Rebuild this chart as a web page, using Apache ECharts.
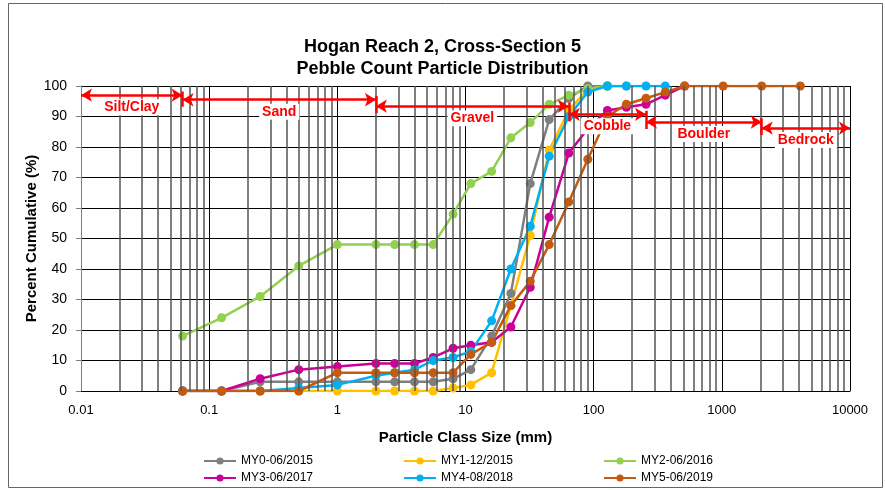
<!DOCTYPE html>
<html>
<head>
<meta charset="utf-8">
<script src="https://cdn.jsdelivr.net/npm/echarts@6/dist/echarts.min.js"></script>
<style>
  html, body { margin: 0; padding: 0; background: #fff; }
  #chart { width: 885px; height: 490px; }
</style>
</head>
<body>
<div id="chart"></div>
<script>
// particle class sizes (mm), shared by every survey
const sizes = [0.062, 0.125, 0.25, 0.5, 1, 2, 2.8, 4, 5.6, 8, 11, 16, 22.6, 32, 45, 64, 90, 128, 180, 256, 362, 512, 1024, 2048, 4096];

// percent cumulative per survey, in the order of sizes
const my0 = [0, 0, 3, 3, 3, 3, 3, 3, 3, 4, 7, 18, 32, 68, 89, 96, 100, 100];
const my1 = [0, 0, 0, 0, 0, 0, 0, 0, 0, 1, 2, 6, 28, 51, 79, 92, 99, 100];
const my2 = [18, 24, 31, 41, 48, 48, 48, 48, 48, 58, 68, 72, 83, 88, 94, 97, 99, 100, 100];
const my3 = [0, 0, 4, 7, 8, 9, 9, 9, 11, 14, 15, 16, 21, 34, 57, 78, 86, 92, 93, 94, 97, 100];
const my4 = [0, 0, 0, 1, 2, 5, 6, 7, 10, 11, 13, 23, 40, 54, 77, 90, 98, 100, 100, 100, 100];
const my5 = [0, 0, 0, 0, 6, 6, 6, 6, 6, 6, 12, 16, 28, 36, 48, 62, 76, 90, 94, 96, 98, 100, 100, 100, 100];

const surveyNames = ['MY0-06/2015', 'MY1-12/2015', 'MY2-06/2016', 'MY3-06/2017', 'MY4-08/2018', 'MY5-06/2019'];
const surveyValues = [my0, my1, my2, my3, my4, my5];
const surveyColors = ['#7f7f7f', '#ffc000', '#92d050', '#cc0099', '#00b0f0', '#c55a11'];

// size class boundaries (mm) and names for the red arrows
const classBounds = [0.01, 0.062, 2, 64, 256, 2048, 10000];
const classNames = ['Silt/Clay', 'Sand', 'Gravel', 'Cobble', 'Boulder', 'Bedrock'];
const classLevels = [97, 95.5, 93.4, 90.7, 88.2, 86.2];

const xTicks = [0.01, 0.1, 1, 10, 100, 1000];

const narrow = '"Liberation Sans Narrow", "Liberation Sans", Arial, sans-serif';

const chart = echarts.init(document.getElementById('chart'));

// minor log grid lines 2..9 within each decade
const minorLines = [];
xTicks.forEach(d => {
  for (let m = 2; m <= 9; m++) {
    minorLines.push({ xAxis: +(d * m).toPrecision(3) });
  }
});

const arrowData = [];
classNames.forEach((name, i) => {
  arrowData.push([
    { coord: [classBounds[i], classLevels[i]], symbol: 'arrow' },
    { coord: [classBounds[i + 1], classLevels[i]], symbol: 'arrow', name: name }
  ]);
  if (i > 0) {
    arrowData.push([
      { coord: [classBounds[i], classLevels[i - 1] + 1.2], symbol: 'none' },
      { coord: [classBounds[i], classLevels[i] - 2.3], symbol: 'none', label: { show: false } }
    ]);
  }
});

const series = surveyNames.map((name, i) => ({
  name: name,
  type: 'line',
  data: surveyValues[i].map((v, j) => [sizes[j], v]),
  symbol: 'circle',
  symbolSize: 9,
  showSymbol: true,
  color: surveyColors[i],
  lineStyle: { width: 2.5 },
  z: 3
}));

series.push({
  type: 'line',
  data: [],
  silent: true,
  z: 1,
  markLine: {
    silent: true,
    animation: false,
    symbol: ['none', 'none'],
    label: { show: false },
    lineStyle: { color: '#555', width: 1.5, type: 'solid' },
    data: minorLines
  }
});

series.push({
  type: 'line',
  data: [],
  silent: true,
  z: 10,
  markLine: {
    silent: true,
    animation: false,
    symbolSize: [10, 11],
    lineStyle: { color: '#ff0000', width: 2.5, type: 'solid' },
    label: {
      show: true,
      position: 'insideMiddleBottom',
      distance: 4,
      formatter: p => p.name,
      color: '#ff0000',
      fontWeight: 'bold',
      fontSize: 14,
      fontFamily: '"Liberation Sans", Arial, sans-serif',
      backgroundColor: '#fff',
      padding: [1, 3]
    },
    data: arrowData
  }
});

chart.setOption({
  animation: false,
  title: {
    text: 'Hogan Reach 2, Cross-Section 5\nPebble Count Particle Distribution',
    left: 'center',
    top: 31,
    textStyle: {
      fontSize: 18,
      fontWeight: 'bold',
      fontFamily: narrow,
      color: '#000',
      lineHeight: 22
    }
  },
  legend: surveyNames.map((name, i) => ({
    data: [name],
    left: 198 + (i % 3) * 200,
    top: 450 + Math.floor(i / 3) * 17,
    itemWidth: 32,
    itemHeight: 9,
    textStyle: { fontSize: 12, fontFamily: narrow, color: '#000' }
  })),
  graphic: [{
    type: 'rect',
    shape: { x: 8.5, y: 3.5, width: 874, height: 484 },
    style: { fill: 'none', stroke: '#666', lineWidth: 1 },
    silent: true
  }],
  grid: { left: 81, right: 35, top: 86, bottom: 99 },
  xAxis: {
    type: 'log',
    logBase: 10,
    min: 0.01,
    max: 10000,
    name: 'Particle Class Size (mm)',
    nameLocation: 'middle',
    nameGap: 39,
    nameMoveOverlap: false,
    nameTextStyle: { fontSize: 15, fontWeight: 'bold', fontFamily: narrow, color: '#000' },
    axisLine: { lineStyle: { color: '#000', width: 1 } },
    axisTick: { show: false },
    axisLabel: {
      margin: 13,
      fontSize: 13,
      fontFamily: '"Liberation Sans", Arial, sans-serif',
      color: '#000',
      formatter: v => String(+(+v).toPrecision(3))
    },
    splitLine: { show: true, lineStyle: { color: '#000', width: 1 } }
  },
  yAxis: {
    type: 'value',
    min: 0,
    max: 100,
    interval: 10,
    name: 'Percent Cumulative (%)',
    nameLocation: 'middle',
    nameGap: 42,
    nameMoveOverlap: false,
    nameTextStyle: { fontSize: 15, fontWeight: 'bold', fontFamily: narrow, color: '#000' },
    axisLine: { show: true, lineStyle: { color: '#808080', width: 1 } },
    axisTick: { show: true, inside: false, length: 5, lineStyle: { color: '#808080' } },
    axisLabel: {
      margin: 14,
      fontSize: 14,
      fontFamily: narrow,
      color: '#000'
    },
    splitLine: { show: true, lineStyle: { color: '#000', width: 1 } }
  },
  series: series
});
</script>
</body>
</html>
